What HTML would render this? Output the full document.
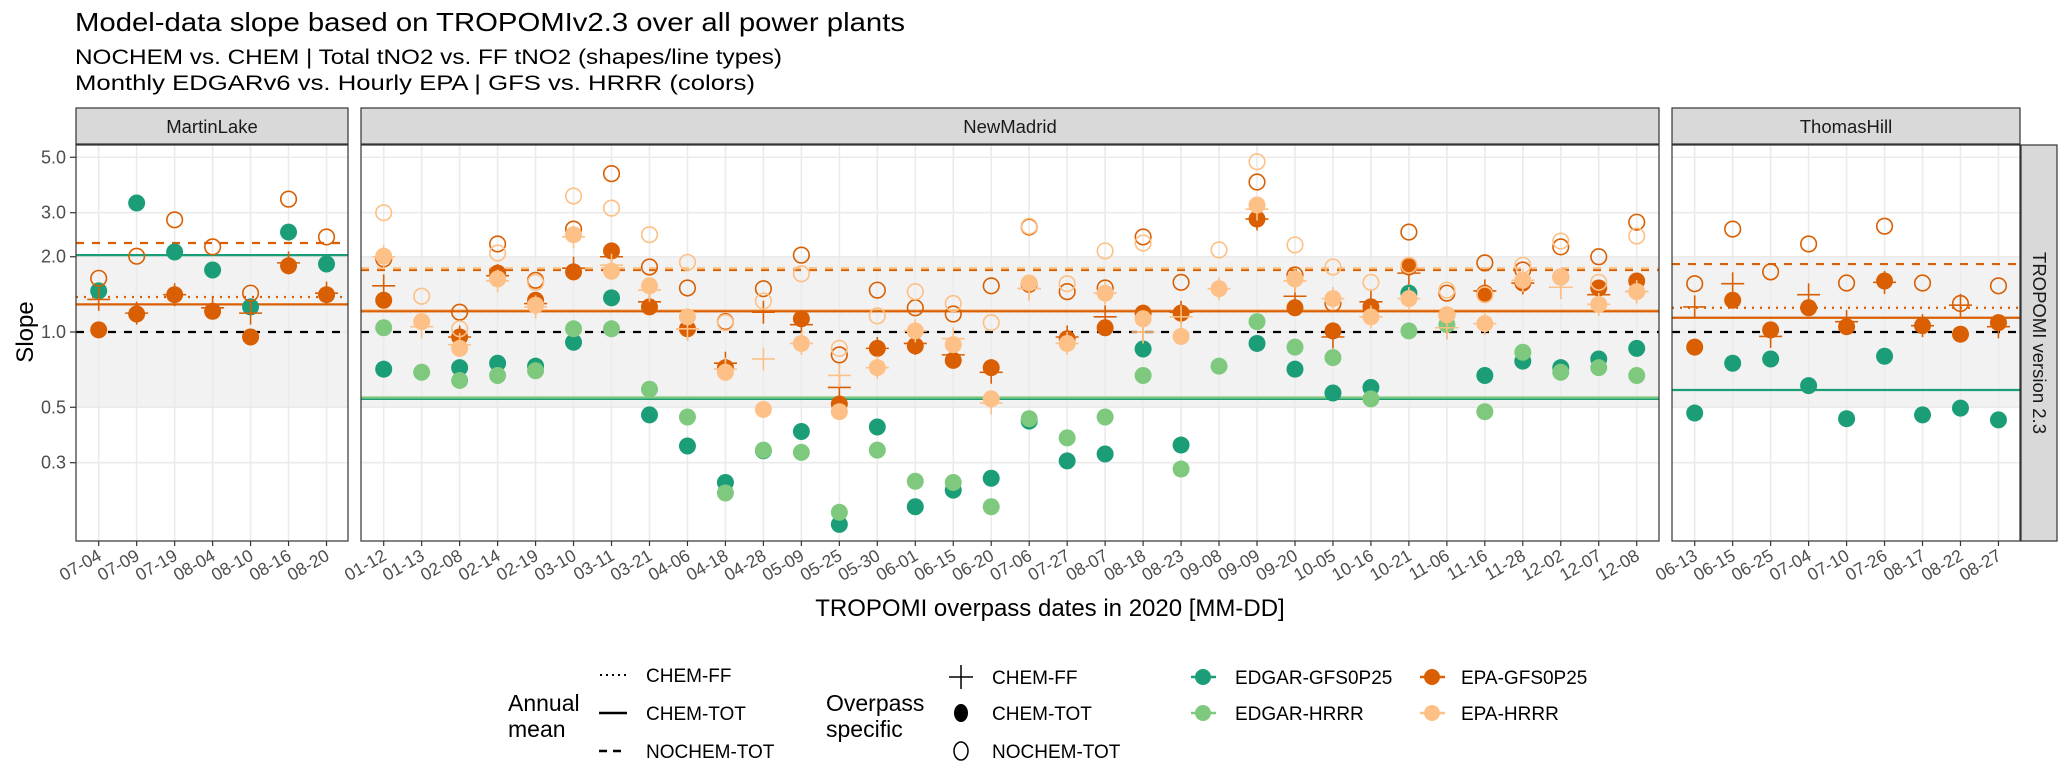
<!DOCTYPE html>
<html><head><meta charset="utf-8">
<style>
html,body{margin:0;padding:0;background:#fff;}
svg{display:block;font-family:"Liberation Sans",sans-serif;}
</style></head>
<body>
<svg id="chart" width="2067" height="770" viewBox="0 0 2067 770" xmlns="http://www.w3.org/2000/svg">
<text x="75" y="31" font-size="26" fill="#000" textLength="830" lengthAdjust="spacingAndGlyphs">Model-data slope based on TROPOMIv2.3 over all power plants</text>
<text x="75" y="64" font-size="21" fill="#000" textLength="707" lengthAdjust="spacingAndGlyphs">NOCHEM vs. CHEM | Total tNO2 vs. FF tNO2 (shapes/line types)</text>
<text x="75" y="90" font-size="21" fill="#000" textLength="680" lengthAdjust="spacingAndGlyphs">Monthly EDGARv6 vs. Hourly EPA | GFS vs. HRRR (colors)</text>
<g id="plots"></g>
<text transform="translate(33,332) rotate(-90)" text-anchor="middle" font-size="24" fill="#000">Slope</text>
<text x="1050" y="616" text-anchor="middle" font-size="24" fill="#000">TROPOMI overpass dates in 2020 [MM-DD]</text>
<g font-size="19" fill="#000">
  <text x="508" y="711" font-size="23">Annual</text>
  <text x="508" y="737" font-size="23">mean</text>
  <line x1="600" y1="675" x2="626" y2="675" stroke="#000" stroke-width="2" stroke-dasharray="2,4"/>
  <text x="646" y="682">CHEM-FF</text>
  <line x1="599" y1="713" x2="627" y2="713" stroke="#000" stroke-width="2.5"/>
  <text x="646" y="720">CHEM-TOT</text>
  <line x1="599" y1="751" x2="627" y2="751" stroke="#000" stroke-width="2.5" stroke-dasharray="8,6"/>
  <text x="646" y="758">NOCHEM-TOT</text>
</g>
<g font-size="19" fill="#000">
  <text x="826" y="711" font-size="23">Overpass</text>
  <text x="826" y="737" font-size="23">specific</text>
  <line x1="949" y1="677" x2="973" y2="677" stroke="#000" stroke-width="1.5"/>
  <line x1="961" y1="665" x2="961" y2="689" stroke="#000" stroke-width="1.5"/>
  <text x="992" y="684">CHEM-FF</text>
  <ellipse cx="961" cy="713" rx="7" ry="9" fill="#000"/>
  <text x="992" y="720">CHEM-TOT</text>
  <ellipse cx="961" cy="751" rx="7" ry="9" fill="none" stroke="#000" stroke-width="1.5"/>
  <text x="992" y="758">NOCHEM-TOT</text>
</g>
<g font-size="19" fill="#000">
  <g><line x1="1191" y1="677" x2="1216" y2="677" stroke="#1b9e77" stroke-width="2.5"/><circle cx="1203" cy="677" r="8" fill="#1b9e77"/><text x="1235" y="684">EDGAR-GFS0P25</text></g>
  <g><line x1="1191" y1="713" x2="1216" y2="713" stroke="#7fc97f" stroke-width="2.5"/><circle cx="1203" cy="713" r="8" fill="#7fc97f"/><text x="1235" y="720">EDGAR-HRRR</text></g>
  <g><line x1="1420" y1="677" x2="1445" y2="677" stroke="#d95f02" stroke-width="2.5"/><circle cx="1432" cy="677" r="8" fill="#d95f02"/><text x="1461" y="684">EPA-GFS0P25</text></g>
  <g><line x1="1420" y1="713" x2="1445" y2="713" stroke="#fdc086" stroke-width="2.5"/><circle cx="1432" cy="713" r="8" fill="#fdc086"/><text x="1461" y="720">EPA-HRRR</text></g>
</g>
</svg>
<script>
// ---------- data ----------
const yTicks = [0.3, 0.5, 1.0, 2.0, 3.0, 5.0];
const yTickLabels = ["0.3", "0.5", "1.0", "2.0", "3.0", "5.0"];
const bandRange = [0.5, 2.0];

const martinDates = ["07-04","07-09","07-19","08-04","08-10","08-16","08-20"];
const martinEdgarGfsTot = [1.46, 3.28, 2.09, 1.77, 1.26, 2.51, 1.87];
const martinEpaGfsTot = [1.02, 1.18, 1.41, 1.21, 0.955, 1.84, 1.41];
const martinEpaGfsNochem = [1.64, 2.01, 2.81, 2.19, 1.43, 3.40, 2.40];
const martinEpaGfsFF = [1.35, 1.19, 1.41, 1.25, 1.19, 1.89, 1.43];
const martinMeanEdgarGfsTot = 2.03;
const martinMeanEpaGfsTot = 1.29;
const martinMeanEpaGfsFF = 1.38;
const martinMeanEpaGfsNochem = 2.27;

const nmDates = ["01-12","01-13","02-08","02-14","02-19","03-10","03-11","03-21","04-06","04-18","04-28","05-09","05-25","05-30","06-01","06-15","06-20","07-06","07-27","08-07","08-18","08-23","09-08","09-09","09-20","10-05","10-16","10-21","11-06","11-16","11-28","12-02","12-07","12-08"];
const nmEdgarGfsTot = [0.71,null,0.72,0.75,0.73,0.91,1.37,0.466,0.35,0.25,0.335,0.40,0.17,0.417,0.20,0.233,0.26,0.44,0.305,0.325,0.855,0.353,null,0.90,0.71,0.57,0.60,1.43,null,0.67,0.765,0.72,0.78,0.86];
const nmEdgarHrrrTot = [1.04,0.69,0.64,0.67,0.70,1.03,1.03,0.59,0.457,0.227,0.337,0.33,0.19,0.337,0.253,0.25,0.20,0.45,0.377,0.457,0.67,0.283,0.73,1.10,0.87,0.79,0.54,1.01,1.07,0.48,0.83,0.69,0.72,0.67];
const nmEpaGfsTot = [1.34,null,0.955,1.72,1.34,1.74,2.11,1.26,1.03,0.72,null,1.13,0.515,0.86,0.88,0.77,0.72,1.55,0.94,1.04,1.19,1.19,null,2.83,1.25,1.01,1.26,1.82,1.17,1.43,1.57,1.66,1.50,1.60];
const nmEpaGfsNochem = [1.96,null,1.2,2.25,1.61,2.58,4.3,1.82,1.5,1.1,1.49,2.03,0.81,1.47,1.25,1.18,1.53,2.63,1.45,1.5,2.4,1.58,null,3.98,1.69,1.3,null,2.51,1.43,1.89,1.77,2.19,2.0,2.75];
const nmEpaGfsFF = [1.53,null,0.955,1.68,1.30,1.8,2.0,1.32,1.03,0.75,1.2,1.07,0.6,0.86,0.9,0.81,0.69,1.49,0.955,1.15,1.0,1.2,null,2.83,1.39,0.955,1.32,1.72,1.04,1.46,1.57,1.51,1.41,1.45];
const nmEpaHrrrTot = [2.01,1.1,0.86,1.63,1.28,2.45,1.75,1.53,1.15,0.69,0.49,0.9,0.48,0.72,1.01,0.89,0.54,1.57,0.9,1.43,1.13,0.96,1.49,3.22,1.63,1.36,1.15,1.36,1.17,1.08,1.61,1.66,1.29,1.45];
const nmEpaHrrrNochem = [3.0,1.39,1.03,2.07,1.58,3.5,3.13,2.45,1.9,1.09,1.33,1.71,0.86,1.16,1.45,1.3,1.09,2.65,1.56,2.11,2.27,null,2.13,4.8,2.23,1.82,1.58,1.85,1.47,1.41,1.85,2.31,1.58,2.42];
const nmEpaHrrrFF = [2.0,1.05,0.89,1.6,1.26,2.4,1.85,1.47,1.03,0.71,0.78,0.9,0.67,0.72,1.01,0.94,0.52,1.49,0.9,1.43,1.0,1.15,1.49,3.1,1.6,1.36,1.15,1.36,1.04,1.08,1.61,1.51,1.29,1.45];
const nmMeanEdgarGfsTot = 0.54;
const nmMeanEdgarHrrrTot = 0.547;
const nmMeanEpaGfsTot = 1.21;
const nmMeanEpaGfsFF = 1.21;
const nmMeanEpaGfsNochem = 1.77;
const nmMeanEpaHrrrTot = 1.22;
const nmMeanEpaHrrrFF = 1.22;
const nmMeanEpaHrrrNochem = 1.80;

const thDates = ["06-13","06-15","06-25","07-04","07-10","07-26","08-17","08-22","08-27"];
const thEdgarGfsTot = [0.474,0.75,0.78,0.61,0.45,0.80,0.466,0.496,0.445];
const thEpaGfsTot = [0.87,1.34,1.02,1.25,1.05,1.60,1.06,0.98,1.09];
const thEpaGfsNochem = [1.56,2.58,1.74,2.25,1.57,2.65,1.57,1.30,1.53];
const thEpaGfsFF = [1.26,1.56,0.96,1.41,1.10,1.58,1.06,1.28,1.05];
const thMeanEdgarGfsTot = 0.586;
const thMeanEpaGfsTot = 1.14;
const thMeanEpaGfsFF = 1.25;
const thMeanEpaGfsNochem = 1.87;

// ---------- rendering ----------
const C = {eg:"#1b9e77", eh:"#7fc97f", pg:"#d95f02", ph:"#fdc086"};
const NS = "http://www.w3.org/2000/svg";
const root = document.getElementById("plots");
const TOP = 145, BOT = 541;
function yScale(v){ return 332 - 250*Math.log10(v); }
function mk(tag, attrs, parent){
  const e = document.createElementNS(NS, tag);
  for (const k in attrs) e.setAttribute(k, attrs[k]);
  (parent||root).appendChild(e);
  return e;
}

function panel(cfg){
  const g = mk("g", {});
  
  
  const L = cfg.left, R = cfg.right;
  const xs = i => L + 22.7 + i*37.97;
  mk("rect",{x:L,y:TOP,width:R-L,height:BOT-TOP,fill:"#fff"},g);
  const band = mk("rect",{x:L,y:yScale(bandRange[1]),width:R-L,height:yScale(bandRange[0])-yScale(bandRange[1]),fill:"#f2f2f2"},g);
  
  
  yTicks.forEach(t=>{ mk("line",{x1:L,x2:R,y1:yScale(t),y2:yScale(t),stroke:"#ebebeb","stroke-width":1.6},g); });
  cfg.dates.forEach((d,i)=>{ mk("line",{x1:xs(i),x2:xs(i),y1:TOP,y2:BOT,stroke:"#ebebeb","stroke-width":1.6},g); });
  const mg = mk("g",{},g);
  
  
  const ref = mk("line",{x1:L,x2:R,y1:yScale(1),y2:yScale(1),stroke:"#000","stroke-width":2.2,"stroke-dasharray":"8,8"},mg);
  
  
  cfg.means.forEach(m=>{
    const attrs = {x1:L,x2:R,y1:yScale(m.v),y2:yScale(m.v),stroke:m.c,"stroke-width":2.2};
    if (m.t==="dash") attrs["stroke-dasharray"]="8,8";
    if (m.t==="dot") attrs["stroke-dasharray"]="2,6";
    const ln = mk("line",attrs,mg);
    
    
  });
  cfg.series.forEach(s=>{
    const sg = mk("g",{},g);
    
    
    s.vals.forEach((v,i)=>{
      if (v==null) return;
      const x = xs(i), y = yScale(v);
      let el;
      if (s.shape==="fill") el = mk("circle",{cx:x,cy:y,r:8.5,fill:s.c},sg);
      else if (s.shape==="open") el = mk("circle",{cx:x,cy:y,r:7.8,fill:"none",stroke:s.c,"stroke-width":1.6},sg);
      else el = mk("path",{d:`M${x-11.5},${y}H${x+11.5}M${x},${y-11.5}V${y+11.5}`,stroke:s.c,"stroke-width":1.6,fill:"none"},sg);
      
      
    });
  });
  mk("rect",{x:L,y:TOP,width:R-L,height:BOT-TOP,fill:"none",stroke:"#333","stroke-width":1.2},g);
  const st = mk("rect",{x:L,y:108,width:R-L,height:36,fill:"#d9d9d9",stroke:"#333","stroke-width":1.2},g);
  
  
  const stt = mk("text",{x:(L+R)/2,y:133,"text-anchor":"middle","font-size":18.5,fill:"#1a1a1a"},g);
  stt.textContent = cfg.title;
  
  
  cfg.dates.forEach((d,i)=>{
    mk("line",{x1:xs(i),x2:xs(i),y1:BOT,y2:BOT+5,stroke:"#333","stroke-width":1.2},g);
    const t = mk("text",{transform:`translate(${xs(i)+4},${BOT+18}) rotate(-30)`,"text-anchor":"end","font-size":17.5,fill:"#4d4d4d"},g);
    t.textContent = d;
    
    
  });
}

panel({key:"martinlake", title:"MartinLake", left:76, right:348, dates:martinDates,
  means:[{v:martinMeanEdgarGfsTot,c:C.eg,t:"solid",n:"edgar-gfs-tot"},{v:martinMeanEpaGfsTot,c:C.pg,t:"solid",n:"epa-gfs-tot"},{v:martinMeanEpaGfsFF,c:C.pg,t:"dot",n:"epa-gfs-ff"},{v:martinMeanEpaGfsNochem,c:C.pg,t:"dash",n:"epa-gfs-nochem"}],
  series:[{n:"edgar-gfs-tot",vals:martinEdgarGfsTot,c:C.eg,shape:"fill"},{n:"epa-gfs-tot",vals:martinEpaGfsTot,c:C.pg,shape:"fill"},{n:"epa-gfs-nochem",vals:martinEpaGfsNochem,c:C.pg,shape:"open"},{n:"epa-gfs-ff",vals:martinEpaGfsFF,c:C.pg,shape:"cross"}]});

panel({key:"newmadrid", title:"NewMadrid", left:361, right:1659, dates:nmDates,
  means:[{v:nmMeanEdgarGfsTot,c:C.eg,t:"solid",n:"edgar-gfs-tot"},{v:nmMeanEdgarHrrrTot,c:C.eh,t:"solid",n:"edgar-hrrr-tot"},
    {v:nmMeanEpaGfsNochem,c:C.pg,t:"dash",n:"epa-gfs-nochem"},{v:nmMeanEpaHrrrNochem,c:C.ph,t:"dash",n:"epa-hrrr-nochem"},
    {v:nmMeanEpaHrrrTot,c:C.ph,t:"solid",n:"epa-hrrr-tot"},{v:nmMeanEpaGfsTot,c:C.pg,t:"solid",n:"epa-gfs-tot"},
    {v:nmMeanEpaHrrrFF,c:C.ph,t:"dot",n:"epa-hrrr-ff"},{v:nmMeanEpaGfsFF,c:C.pg,t:"dot",n:"epa-gfs-ff"}],
  series:[{n:"edgar-gfs-tot",vals:nmEdgarGfsTot,c:C.eg,shape:"fill"},{n:"edgar-hrrr-tot",vals:nmEdgarHrrrTot,c:C.eh,shape:"fill"},
    {n:"epa-gfs-tot",vals:nmEpaGfsTot,c:C.pg,shape:"fill"},{n:"epa-gfs-nochem",vals:nmEpaGfsNochem,c:C.pg,shape:"open"},{n:"epa-gfs-ff",vals:nmEpaGfsFF,c:C.pg,shape:"cross"},
    {n:"epa-hrrr-tot",vals:nmEpaHrrrTot,c:C.ph,shape:"fill"},{n:"epa-hrrr-nochem",vals:nmEpaHrrrNochem,c:C.ph,shape:"open"},{n:"epa-hrrr-ff",vals:nmEpaHrrrFF,c:C.ph,shape:"cross"}]});

panel({key:"thomashill", title:"ThomasHill", left:1672, right:2020, dates:thDates,
  means:[{v:thMeanEdgarGfsTot,c:C.eg,t:"solid",n:"edgar-gfs-tot"},{v:thMeanEpaGfsTot,c:C.pg,t:"solid",n:"epa-gfs-tot"},{v:thMeanEpaGfsFF,c:C.pg,t:"dot",n:"epa-gfs-ff"},{v:thMeanEpaGfsNochem,c:C.pg,t:"dash",n:"epa-gfs-nochem"}],
  series:[{n:"edgar-gfs-tot",vals:thEdgarGfsTot,c:C.eg,shape:"fill"},{n:"epa-gfs-tot",vals:thEpaGfsTot,c:C.pg,shape:"fill"},{n:"epa-gfs-nochem",vals:thEpaGfsNochem,c:C.pg,shape:"open"},{n:"epa-gfs-ff",vals:thEpaGfsFF,c:C.pg,shape:"cross"}]});

const ya = mk("g",{});


yTicks.forEach((t,i)=>{
  mk("line",{x1:70,x2:76,y1:yScale(t),y2:yScale(t),stroke:"#333","stroke-width":1.2},ya);
  const tx = mk("text",{x:66,y:yScale(t)+6,"text-anchor":"end","font-size":18,fill:"#4d4d4d"},ya);
  tx.textContent = yTickLabels[i];
  
  
});
const rs = mk("rect",{x:2021,y:145,width:36,height:396,fill:"#d9d9d9",stroke:"#333","stroke-width":1.2});


const rst = mk("text",{transform:"translate(2033,343) rotate(90)","text-anchor":"middle","font-size":18.5,fill:"#1a1a1a"});
rst.textContent = "TROPOMI version 2.3";


</script>
</body></html>
